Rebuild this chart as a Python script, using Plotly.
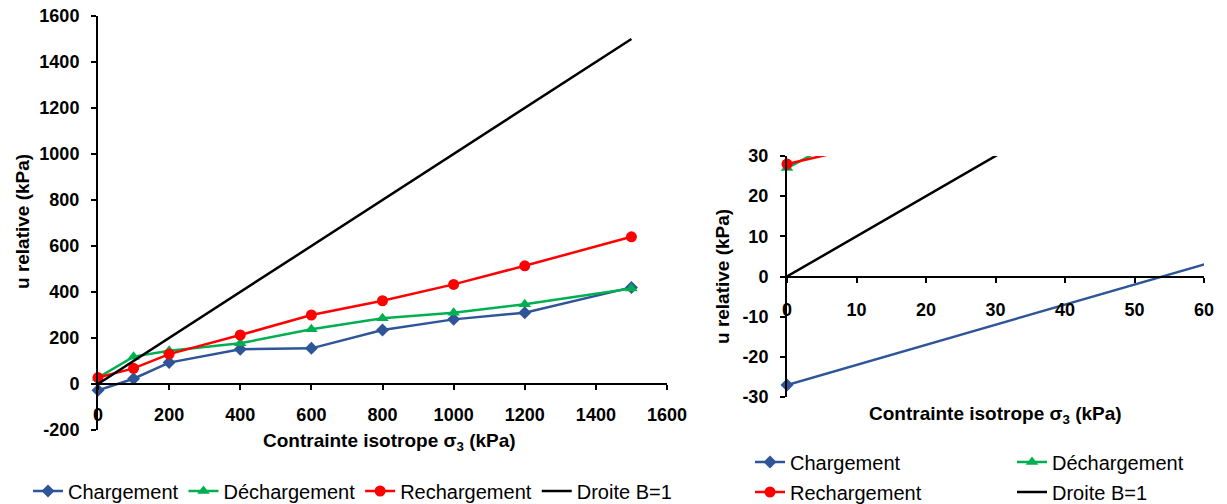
import plotly.graph_objects as go

# ---- data ----
sigma3 = [0, 100, 200, 400, 600, 800, 1000, 1200, 1500]
chargement = [-27, 23, 93, 151, 155, 235, 281, 310, 420]
dechargement = [27, 119, 145, 177, 238, 286, 310, 347, 415]
rechargement = [28, 68, 130, 213, 300, 362, 433, 514, 640]
droite_x = [0, 1500]
droite_y = [0, 1500]

left_xticks = [0, 200, 400, 600, 800, 1000, 1200, 1400, 1600]
left_yticks = [-200, 0, 200, 400, 600, 800, 1000, 1200, 1400, 1600]
right_xticks = [0, 10, 20, 30, 40, 50, 60]
right_yticks = [-30, -20, -10, 0, 10, 20, 30]

x_title = "Contrainte isotrope σ<sub>3</sub> (kPa)"
y_title = "u relative (kPa)"

BLUE = "#2E5597"
GREEN = "#00B050"
RED = "#FF0000"
BLACK = "#000000"
FONT = "Liberation Sans, Arial, sans-serif"

W, H = 1227, 504


def px_x(p):
    return p / W


def px_y(p):
    return 1 - p / H


def labels(vals):
    return [str(v) for v in vals]


series = [
    ("Chargement", chargement, BLUE, "diamond", 10),
    ("Déchargement", dechargement, GREEN, "triangle-up", 11),
    ("Rechargement", rechargement, RED, "circle", 11),
]

fig = go.Figure()

# left chart
for name, vals, col, sym, sz in series:
    fig.add_trace(go.Scatter(
        x=sigma3, y=vals, name=name, mode="lines+markers",
        line=dict(color=col, width=2.5),
        marker=dict(symbol=sym, size=sz, color=col),
        cliponaxis=False, xaxis="x", yaxis="y", legend="legend"))
fig.add_trace(go.Scatter(
    x=droite_x, y=droite_y, name="Droite B=1", mode="lines",
    line=dict(color=BLACK, width=2.5), xaxis="x", yaxis="y", legend="legend"))

# right chart (zoom on origin)
right_legend = {"Chargement": ("legend2", "g1"), "Rechargement": ("legend2", "g2"),
                "Déchargement": ("legend3", "g3"), "Droite B=1": ("legend3", "g4")}
for name, vals, col, sym, sz in series:
    lg, grp = right_legend[name]
    fig.add_trace(go.Scatter(
        x=sigma3, y=vals, name=name, mode="lines+markers",
        line=dict(color=col, width=2.5),
        marker=dict(symbol=sym, size=sz, color=col),
        cliponaxis=False, xaxis="x2", yaxis="y2", legend=lg, legendgroup=grp))
lg, grp = right_legend["Droite B=1"]
fig.add_trace(go.Scatter(
    x=droite_x, y=droite_y, name="Droite B=1", mode="lines",
    line=dict(color=BLACK, width=2.5), xaxis="x2", yaxis="y2",
    legend=lg, legendgroup=grp))

tickfont = dict(family=FONT, size=18, color="black", weight="bold")
common = dict(showgrid=False, zeroline=False, showline=True, linecolor="black",
              linewidth=2, ticks="outside", ticklen=5, tickwidth=1.5,
              tickcolor="black", tickfont=tickfont, automargin=False)

legfont = dict(family=FONT, size=20, color="black")
fig.update_layout(
    width=W, height=H,
    margin=dict(l=0, r=0, t=0, b=0, autoexpand=False),
    paper_bgcolor="white", plot_bgcolor="white",
    font=dict(family=FONT, color="black"),
    showlegend=True,
    xaxis=dict(domain=[px_x(98), px_x(667)], range=[0, 1600],
               tickvals=left_xticks, ticktext=labels(left_xticks),
               anchor="free", position=px_y(384), ticklabelstandoff=9, **common),
    yaxis=dict(domain=[px_y(430), px_y(16)], range=[-200, 1600],
               tickvals=left_yticks, ticktext=labels(left_yticks),
               anchor="x", ticklabelstandoff=8, **common),
    xaxis2=dict(domain=[px_x(787), px_x(1204)], range=[0, 60],
                tickvals=right_xticks, ticktext=labels(right_xticks),
                anchor="free", position=px_y(277), ticklabelstandoff=11, **common),
    yaxis2=dict(domain=[px_y(397), px_y(156)], range=[-30, 30],
                tickvals=right_yticks, ticktext=labels(right_yticks),
                anchor="x2", ticklabelstandoff=8, **common),
    legend=dict(orientation="h", x=px_x(28), y=px_y(491), xanchor="left",
                yanchor="middle", font=legfont,
                bgcolor="rgba(0,0,0,0)", itemwidth=30),
    legend2=dict(orientation="v", x=px_x(750), y=px_y(477), xanchor="left",
                 yanchor="middle", font=legfont,
                 bgcolor="rgba(0,0,0,0)", tracegroupgap=1, traceorder="grouped"),
    legend3=dict(orientation="v", x=px_x(1012), y=px_y(477), xanchor="left",
                 yanchor="middle", font=legfont,
                 bgcolor="rgba(0,0,0,0)", tracegroupgap=1, traceorder="grouped"),
)

title_font = dict(family=FONT, size=19, color="black", weight="bold")
fig.add_annotation(text=x_title, xref="paper", yref="paper", x=px_x(389), y=px_y(442),
                   xanchor="center", yanchor="middle", showarrow=False, font=title_font)
fig.add_annotation(text=y_title, xref="paper", yref="paper", x=px_x(22), y=px_y(222),
                   xanchor="center", yanchor="middle", showarrow=False, textangle=-90,
                   font=title_font)
fig.add_annotation(text=x_title, xref="paper", yref="paper", x=px_x(995), y=px_y(415),
                   xanchor="center", yanchor="middle", showarrow=False, font=title_font)
fig.add_annotation(text=y_title, xref="paper", yref="paper", x=px_x(722), y=px_y(277),
                   xanchor="center", yanchor="middle", showarrow=False, textangle=-90,
                   font=title_font)

fig.write_html(
    "out.html",
    config={"displayModeBar": False},
    post_script="document.body.style.margin='0px';document.body.style.overflow='hidden';",
)
